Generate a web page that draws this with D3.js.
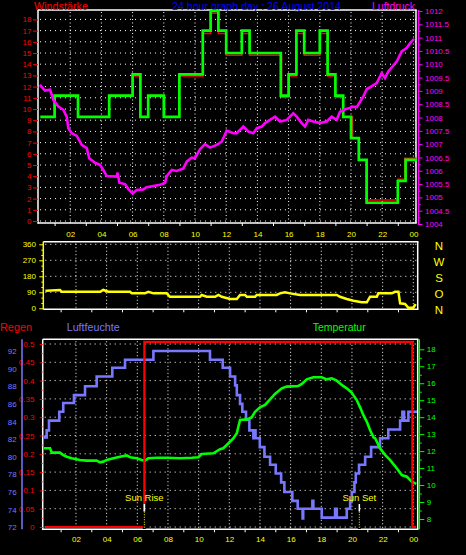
<!DOCTYPE html>
<html><head><meta charset="utf-8">
<script src="https://cdn.jsdelivr.net/npm/d3@7"></script>
<style>html,body{margin:0;padding:0;background:#000;}svg{display:block;}</style>
</head><body>
<svg id="c" width="466" height="555"></svg>
<script>
// ---------------- DATA ----------------
const hourLabels = [2,4,6,8,10,12,14,16,18,20,22,24];
const hourMinorTicks = [1,3,5,7,9,11,13,15,17,19,21,23];

const windTicks = [0,1,2,3,4,5,6,7,8,9,10,11,12,13,14,15,16,17,18];
const pressTicks = [1004,1004.5,1005,1005.5,1006,1006.5,1007,1007.5,1008,1008.5,1009,1009.5,1010,1010.5,1011,1011.5,1012];
const dirTicks = [0,90,180,270,360];
const dirNames = ["N","W","S","O","N"];
const dirNameAt = [360,270,180,90,0];
const rainTicks = [0,0.05,0.1,0.15,0.2,0.25,0.3,0.35,0.4,0.45,0.5];
const humTicks = [72,74,76,78,80,82,84,86,88,90,92];
const tempTicks = [8,9,10,11,12,13,14,15,16,17,18];

// Windstärke (average, green) and gust (red)
const windTime = [0.17,1.0,2.5,4.5,6.0,6.5,7.0,8.0,9.0,10.5,11.0,11.5,12.0,13.0,13.5,15.5,16.0,16.5,17.0,18.0,18.5,19.0,19.5,20.0,20.5,21.0,23.0,23.5,24.15];
const windVal  = [9.3,11.2,9.3,11.2,13.1,9.3,11.2,9.3,13.1,17.0,18.75,17.0,15.0,17.0,15.0,11.2,13.1,17.0,15.0,17.0,13.1,11.2,9.3,7.4,5.45,1.63,3.57,5.45,5.45];
const gustTime = [0.17,1.0,2.5,4.5,6.0,6.5,7.0,8.05,9.0,10.5,11.0,11.5,12.0,13.0,13.5,15.55,16.0,16.5,17.0,18.0,18.5,19.0,19.5,20.1,20.5,21.0,23.0,23.45,24.15];
const gustVal  = [9.3,11.2,9.3,11.2,12.95,9.3,11.2,9.3,12.95,16.75,18.55,16.75,14.8,16.75,14.8,11.05,12.95,16.75,14.8,16.75,12.95,11.05,9.3,7.4,5.45,1.88,3.72,5.6,5.6];

// Luftdruck (hPa)
const pressTime = [0.11,0.38,0.71,0.92,1.24,1.56,1.78,1.88,2.10,2.42,2.74,3.06,3.22,3.59,3.91,4.12,4.34,4.98,5.04,5.15,5.51,5.72,6.01,6.26,6.69,6.90,7.33,7.76,8.08,8.19,8.51,8.83,9.25,9.47,9.79,10.00,10.32,10.64,10.96,11.39,11.71,12.03,12.46,12.67,13.10,13.42,13.74,13.96,14.28,14.49,14.81,15.13,15.45,15.88,16.30,16.52,16.84,17.05,17.26,17.58,18.01,18.44,18.76,19.08,19.29,19.62,19.94,20.04,20.37,20.79,21.01,21.65,21.97,22.18,22.39,22.93,23.25,23.57,23.78,23.99];
const pressVal  = [1009.19,1009.01,1009.04,1008.66,1008.41,1008.29,1008.02,1007.60,1007.41,1007.31,1006.97,1006.85,1006.47,1006.30,1006.22,1006.03,1005.80,1005.78,1005.93,1005.55,1005.50,1005.32,1005.15,1005.28,1005.30,1005.38,1005.43,1005.47,1005.55,1005.80,1006.03,1005.99,1006.09,1006.34,1006.49,1006.47,1006.81,1007.00,1006.87,1006.97,1007.09,1007.51,1007.41,1007.41,1007.66,1007.47,1007.41,1007.60,1007.66,1007.79,1007.91,1008.03,1007.85,1007.91,1008.16,1008.03,1007.79,1007.66,1007.91,1007.85,1007.79,1007.85,1008.03,1007.91,1008.21,1008.31,1008.36,1008.41,1008.39,1008.79,1009.06,1009.29,1009.67,1009.48,1009.73,1010.10,1010.48,1010.61,1010.79,1010.92];

// Windrichtung (degrees)
const dirTime = [0.09,0.96,1.07,3.57,3.78,4.11,5.53,5.64,6.50,6.72,7.05,7.92,8.13,10.09,10.20,10.53,11.07,11.29,11.51,12.05,12.49,12.70,13.03,13.14,13.68,13.79,15.09,15.31,15.63,15.96,16.61,19.01,19.22,19.66,20.09,20.64,20.97,21.18,21.62,21.72,22.60,22.81,23.03,23.14,23.46,23.68,24.0,24.11];
const dirVal  = [99,103,93,93,103,93,93,84,84,93,84,84,65,65,75,65,65,75,65,52,52,75,75,65,65,75,75,84,90,84,75,75,65,52,43,34,34,65,65,84,84,93,93,28,24,3,3,18];

// Regen
const rainTime = [0.09,6.46,23.94,24.12];
const rainVal  = [0,0.506,0,0];

// Luftfeuchte (%)
const humTime = [0.00,0.09,0.24,0.91,1.17,1.87,2.59,3.35,4.37,5.20,7.05,10.74,11.57,12.05,12.38,12.49,12.70,12.85,13.09,13.31,13.57,13.65,13.71,13.99,14.29,14.66,15.03,15.38,15.59,16.11,16.46,16.78,16.82,17.42,17.48,18.03,18.90,19.01,19.66,19.88,19.99,20.16,20.25,20.46,20.86,21.25,21.83,22.37,23.14,23.29,23.40,23.68,24.16];
const humVal  = [82.2,83.0,84.1,85.1,86.1,87.0,88.0,89.1,90.1,91.0,92.0,91.0,90.1,89.1,88.1,87.0,86.0,85.1,84.2,83.0,82.1,83.0,82.1,81.1,80.0,79.1,78.1,77.1,76.0,75.0,74.1,73.0,74.1,75.0,74.1,73.1,74.1,73.1,74.1,75.0,76.0,77.1,78.1,79.1,80.0,81.1,82.1,83.1,84.1,85.1,84.1,85.1,85.1];

// Temperatur (°C)
const tempTime = [0.00,0.31,0.42,0.96,1.17,1.40,1.72,2.26,2.70,3.35,3.57,3.78,4.01,4.44,4.87,5.31,5.53,5.96,6.29,6.50,6.72,7.27,7.92,8.79,9.55,9.98,10.20,10.96,11.40,11.61,11.83,12.05,12.26,12.49,12.59,12.70,13.14,13.46,13.68,14.00,14.33,14.66,14.98,15.42,15.75,16.50,16.73,17.05,17.48,18.03,18.36,18.68,19.01,19.33,19.66,19.99,20.31,20.53,20.74,20.97,21.18,21.40,21.51,21.83,22.16,22.48,22.92,23.25,23.58,23.90,24.12];
const tempVal  = [12.17,12.17,11.91,11.91,11.77,11.67,11.58,11.48,11.44,11.44,11.34,11.38,11.48,11.58,11.67,11.75,11.64,11.58,11.48,11.44,11.58,11.61,11.61,11.58,11.61,11.64,11.83,11.87,12.11,12.17,12.36,12.56,12.75,13.05,13.44,13.83,13.87,13.99,14.32,14.58,14.72,15.05,15.37,15.70,15.80,15.84,15.96,16.23,16.35,16.35,16.23,16.29,16.15,15.90,15.70,15.44,15.01,14.58,14.13,13.73,13.24,12.81,12.76,12.17,11.77,11.48,10.99,10.59,10.49,10.20,10.10];

const sunLabels = ["Sun Rise","Sun Set"];
const sunHours  = [6.46,20.48];

// ---------------- DRAW ----------------
const F = "'Liberation Sans', Arial, Helvetica, sans-serif";
const C = {red:"#ff0000", blue:"#0000ff", mag:"#ff00ff", green:"#00ff00", yellow:"#ffff00", hum:"#7878ff", white:"#ffffff"};
const svg = d3.select("#c");
svg.append("rect").attr("width",466).attr("height",555).attr("fill","#000");

const xTop = d3.scaleLinear().domain([0,24]).range([39,413.4]);
const xBot = d3.scaleLinear().domain([0,24]).range([45.3,413.3]);
const yWind = d3.scaleLinear().domain([0,18]).range([221,19.4]);
const yPress = d3.scaleLinear().domain([1004,1012]).range([224,11]);
const yDir = d3.scaleLinear().domain([0,360]).range([308.3,244.3]);
const yRain = d3.scaleLinear().domain([0,0.5]).range([527,344]);
const yHum = d3.scaleLinear().domain([72,92]).range([527.3,351]);
const yTemp = d3.scaleLinear().domain([8,18]).range([519,349.3]);

const P = {
  top:{l:38,r:416,t:10,b:223},
  mid:{l:43.3,r:417.7,t:241.7,b:309.3},
  bot:{l:42.7,r:417.7,t:339.3,b:529.3}
};

function hline(g,x1,x2,y,color,w,dash){
  g.append("line").attr("x1",x1).attr("x2",x2).attr("y1",y).attr("y2",y)
   .attr("stroke",color).attr("stroke-width",w).attr("stroke-dasharray",dash||null);
}
function vline(g,x,y1,y2,color,w,dash){
  g.append("line").attr("x1",x).attr("x2",x).attr("y1",y1).attr("y2",y2)
   .attr("stroke",color).attr("stroke-width",w).attr("stroke-dasharray",dash||null);
}
function styleAxis(g,color,fs,keepDomain){
  if(!keepDomain) g.select(".domain").remove();
  g.attr("font-family",F).attr("font-size",fs);
  g.selectAll(".tick line").attr("stroke",color).attr("stroke-width",1);
  g.selectAll(".tick text").attr("fill",color);
}
const fmt2 = d => d===24 ? "00" : d3.format("02")(d);

// ---- grids ----
const grid = svg.append("g");
windTicks.forEach(v => hline(grid,P.top.l+2,P.top.r,yWind(v),"#fff",1,"1,4"));
hourLabels.forEach(h => vline(grid,xTop(h),P.top.t+2,P.top.b,"#fff",1,"1,2.5"));
[90,180,270,360].forEach(v => hline(grid,P.mid.l+2,P.mid.r,yDir(v),"#fff",1,"1,4"));
hourLabels.forEach(h => vline(grid,xBot(h),P.mid.t+2,P.mid.b,"#fff",1,"1,2.5"));
rainTicks.forEach(v => hline(grid,P.bot.l+2,P.bot.r,yRain(v),"#fff",1,"1,4"));
hourLabels.forEach(h => vline(grid,xBot(h),P.bot.t+2,P.bot.b,"#fff",1,"1,2.5"));

// ---- frames ----
const fr = svg.append("g");
[P.top,P.mid,P.bot].forEach(p=>{
  hline(fr,p.l,p.r+0.75,p.t,"#fff",1.5);
  vline(fr,p.r,p.t,p.b,"#fff",1.5);
  hline(fr,p.l,p.r+0.75,p.b,"#fff",1.5);
});
vline(fr,P.top.l,P.top.t,P.top.b+0.75,"#fff",1.5);
vline(fr,P.bot.l,P.bot.t,P.bot.b+0.75,"#fff",1.5);
vline(fr,P.mid.l,P.mid.t,P.mid.b,C.yellow,1.5);

// ---- axes: top ----
let g;
g = svg.append("g").attr("transform",`translate(${P.top.l},0)`)
  .call(d3.axisLeft(yWind).tickValues(windTicks).tickSize(5).tickPadding(1.5).tickFormat(d3.format("d")));
styleAxis(g,C.red,8);

vline(svg,418.5,P.top.t,225,C.mag,1.5);
g = svg.append("g").attr("transform","translate(418.5,0)")
  .call(d3.axisRight(yPress).tickValues(pressTicks).tickSize(4).tickPadding(2.5)
    .tickFormat(d => Number.isInteger(d) ? d : d.toFixed(1)));
styleAxis(g,C.mag,8);
g = svg.append("g").attr("transform","translate(418.5,0)")
  .call(d3.axisRight(yPress).tickValues(pressTicks.slice(0,-1).map(d=>d+0.25)).tickSize(2).tickFormat(""));
styleAxis(g,C.mag,8);

g = svg.append("g").attr("transform",`translate(0,${P.top.b})`)
  .call(d3.axisBottom(xTop).tickValues(hourMinorTicks).tickSize(3).tickFormat(""));
styleAxis(g,"#fff",8);
g = svg.append("g").attr("transform",`translate(0,${P.top.b})`)
  .call(d3.axisBottom(xTop).tickValues(hourLabels).tickSize(0).tickPadding(8.8).tickFormat(fmt2));
styleAxis(g,C.yellow,8);

// ---- axes: middle ----
g = svg.append("g").attr("transform",`translate(${P.mid.l},0)`)
  .call(d3.axisLeft(yDir).tickValues(dirTicks).tickSize(4).tickPadding(3.3));
styleAxis(g,C.yellow,8);
g = svg.append("g").attr("transform",`translate(${P.mid.l},0)`)
  .call(d3.axisLeft(yDir).tickValues([30,60,120,150,210,240,300,330]).tickSize(2).tickFormat(""));
styleAxis(g,C.yellow,8);
g = svg.append("g").attr("transform",`translate(0,${P.mid.b})`)
  .call(d3.axisBottom(xBot).tickValues(hourMinorTicks).tickSize(3).tickFormat(""));
styleAxis(g,"#fff",8);
svg.append("g").selectAll("text").data(dirNames).join("text")
  .attr("x",439).attr("y",(d,i)=>yDir(dirNameAt[i])+5.2)
  .attr("text-anchor","middle").attr("fill",C.yellow)
  .attr("font-family",F).attr("font-size",11.5).text(d=>d);

// ---- axes: bottom ----
g = svg.append("g").attr("transform",`translate(${P.bot.l},0)`)
  .call(d3.axisLeft(yRain).tickValues(rainTicks).tickSize(3).tickPadding(5.3).tickFormat(d=>String(+d.toFixed(2))));
styleAxis(g,C.red,8);
g = svg.append("g").attr("transform",`translate(${P.bot.l},0)`)
  .call(d3.axisLeft(yRain).tickValues(rainTicks.slice(0,-1).map(d=>d+0.025)).tickSize(1.5).tickFormat(""));
styleAxis(g,C.red,8);

vline(svg,22,P.bot.t,P.bot.b,C.hum,1.5);
g = svg.append("g").attr("transform","translate(22,0)")
  .call(d3.axisLeft(yHum).tickValues(humTicks).tickSize(0).tickPadding(5.3));
styleAxis(g,C.hum,8);

vline(svg,419.3,P.bot.t,P.bot.b,C.green,1.5);
g = svg.append("g").attr("transform","translate(419.3,0)")
  .call(d3.axisRight(yTemp).tickValues(tempTicks).tickSize(5).tickPadding(2.4));
styleAxis(g,C.green,8);
g = svg.append("g").attr("transform","translate(419.3,0)")
  .call(d3.axisRight(yTemp).tickValues(tempTicks.slice(0,-1).map(d=>d+0.5)).tickSize(2.5).tickFormat(""));
styleAxis(g,C.green,8);

g = svg.append("g").attr("transform",`translate(0,${P.bot.b})`)
  .call(d3.axisBottom(xBot).tickValues(hourMinorTicks).tickSize(3).tickFormat(""));
styleAxis(g,"#fff",8);
g = svg.append("g").attr("transform",`translate(0,${P.bot.b})`)
  .call(d3.axisBottom(xBot).tickValues(hourLabels).tickSize(0).tickPadding(7).tickFormat(fmt2));
styleAxis(g,C.yellow,8);

// ---- titles ----
function title(txt,x,y,color,len){
  svg.append("text").attr("x",x).attr("y",y).attr("fill",color)
    .attr("font-family",F).attr("font-size",11.5)
    .attr("textLength",len).attr("lengthAdjust","spacingAndGlyphs").text(txt);
}
title("Windstärke",34,9.5,C.red,54);
title("24 hour graph day : 26 August 2014",172,9.5,C.blue,169);
title("Luftdruck",372,9.5,C.mag,43);
title("Regen",0,331,C.red,32);
title("Luftfeuchte",66.7,331,C.hum,53);
title("Temperatur",312.7,331,C.green,53);

// ---- series ----
function series(xs,ys,xScale,yScale,color,w,curve){
  const pts = xs.map((t,i)=>[t,ys[i]]);
  svg.append("path").datum(pts)
    .attr("d",d3.line().x(d=>xScale(d[0])).y(d=>yScale(d[1])).curve(curve||d3.curveLinear))
    .attr("fill","none").attr("stroke",color).attr("stroke-width",w)
    .attr("stroke-linejoin","miter").attr("stroke-linecap","square");
}
// top
series(gustTime,gustVal,xTop,yWind,C.red,1.5,d3.curveStepAfter);
series(windTime,windVal,xTop,yWind,C.green,2.7,d3.curveStepAfter);
series(pressTime,pressVal,xTop,yPress,C.mag,2.6);
// middle
series(dirTime,dirVal,xBot,yDir,C.yellow,2.5);
// bottom
series(humTime,humVal,xBot,yHum,C.hum,2.6,d3.curveStepAfter);
series(tempTime,tempVal,xBot,yTemp,C.green,2.6);
series(rainTime,rainVal,xBot,yRain,C.red,2.2,d3.curveStepAfter);

// sun markers
sunHours.forEach((h,i)=>{
  const x = xBot(h);
  svg.append("text").attr("x",x).attr("y",501).attr("text-anchor","middle")
    .attr("fill",C.yellow).attr("font-family",F).attr("font-size",9.5).text(sunLabels[i]);
  vline(svg,x,504,511.7,"#fff",1.5);
  vline(svg,x,511.7,529,"#000",3);
  vline(svg,x,511.7,529,C.yellow,1,"1,1.5");
});
</script>
</body></html>
